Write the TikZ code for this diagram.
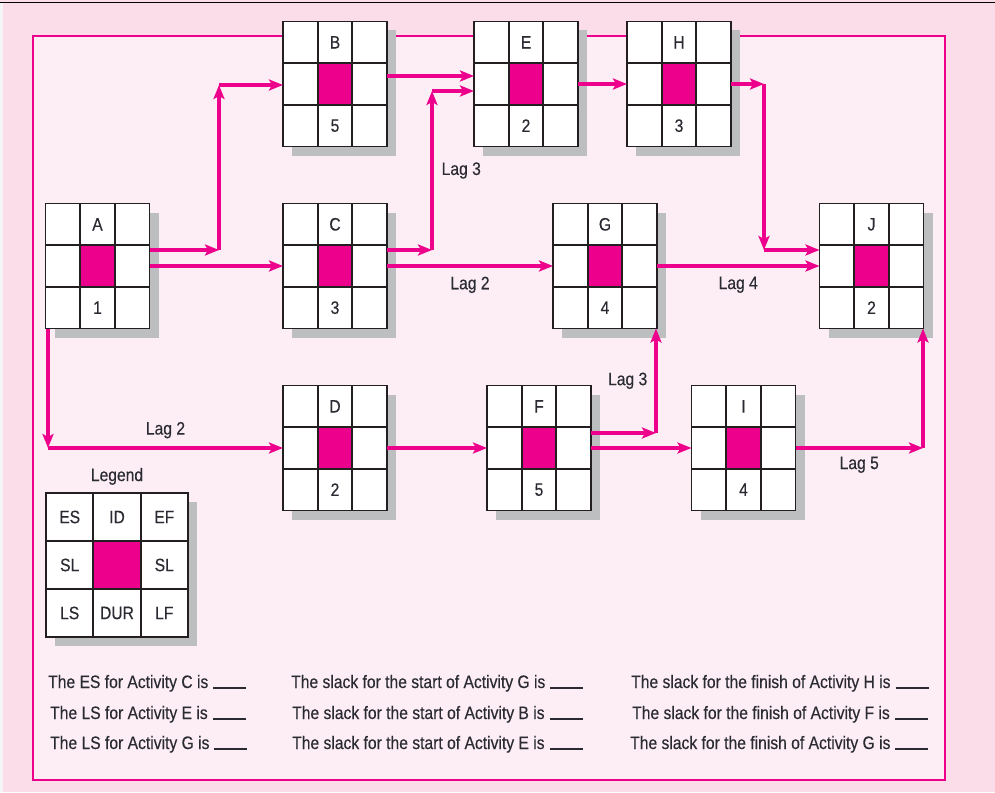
\documentclass[tikz,border=0pt]{standalone}
\usepackage{fontspec}
\setmainfont{Liberation Sans}[FakeStretch=0.87, FakeBold=0.3]
\usetikzlibrary{arrows.meta, positioning, calc}

\definecolor{hotpink}{RGB}{236,0,140}
\definecolor{pageback}{RGB}{250,221,232}
\definecolor{frameback}{RGB}{253,237,244}
\definecolor{shadowgray}{RGB}{189,190,192}
\definecolor{gridblack}{RGB}{35,31,32}
\definecolor{inkgray}{RGB}{42,42,50}

\newcommand{\boxfont}{\fontsize{18}{21}\selectfont}
\newcommand{\blank}{\hspace{5pt}\rule[-0.5pt]{33pt}{1.8pt}}

% inner lines and magenta centre of a 3x3 box
\newcommand{\cellgrid}[1]{%
  \fill[hotpink] ($(#1.north west)!1/3!(#1.south east)$) rectangle ($(#1.north west)!2/3!(#1.south east)$);
  \draw[gridline]
    ($(#1.north west)!1/3!(#1.north east)$) -- ($(#1.south west)!1/3!(#1.south east)$)
    ($(#1.north west)!2/3!(#1.north east)$) -- ($(#1.south west)!2/3!(#1.south east)$)
    ($(#1.north west)!1/3!(#1.south west)$) -- ($(#1.north east)!1/3!(#1.south east)$)
    ($(#1.north west)!2/3!(#1.south west)$) -- ($(#1.north east)!2/3!(#1.south east)$);
}

% activity box: name, position, duration
\newcommand{\actnode}[3]{%
  \node[actbox] (#1) at (#2) {};
  \cellgrid{#1}
  \node[cellnum] (#1-id) at ($(#1.north)!1/6!(#1.south)$) {#1};
  \node[cellnum] (#1-dur) at ($(#1.north)!5/6!(#1.south)$) {#3};
}

\begin{document}
\begin{tikzpicture}[
  x=1pt, y=-1pt,
  >=Stealth,
  % --- boxes ---
  actbox/.style={
    draw=gridblack, line width=1.9pt, fill=white,
    minimum width=104pt, minimum height=125pt, inner sep=0pt, outer sep=0pt,
    preaction={fill=shadowgray, draw=none, transform canvas={shift={(9pt,-9pt)}}}
  },
  legbox/.style={actbox, minimum width=142pt, minimum height=144pt},
  gridline/.style={draw=gridblack, line width=1.9pt},
  frameline/.style={draw=hotpink, line width=1.8pt, fill=frameback},
  % --- labels ---
  cellnum/.style={font=\boxfont, text=inkgray, inner sep=0pt},
  lag/.style={font=\boxfont, text=inkgray, inner sep=1pt},
  qtext/.style={font=\boxfont, text=inkgray, anchor=base west, inner sep=0pt},
  % --- arrows ---
  arr/.style={-{Stealth[length=14pt, width=11pt, inset=3pt]}, line width=3.4pt, draw=hotpink},
]

\useasboundingbox (0,0) rectangle (995,792);

% ===================== PAGE =====================

\fill[pageback] (0,0) rectangle (995,792);
\fill[gray!8] (0,3) rectangle (3,792);
\draw[black, line width=1.5pt] (0,2.5) -- (995,2.5);
\draw[frameline] (33,36) rectangle (945,780);

% ===================== ACTIVITIES =====================

\actnode{A}{97.5,266}{1}
\actnode{B}{335,84}{5}
\actnode{C}{335,266}{3}
\actnode{D}{335,448}{2}
\actnode{E}{526,84}{2}
\actnode{F}{539,448}{5}
\actnode{G}{605,266}{4}
\actnode{H}{679,84}{3}
\actnode{I}{743.5,448}{4}
\actnode{J}{871.5,266}{2}

% ===================== CONNECTIONS =====================

% A -> B, A -> C, A -> D
\coordinate (ab1) at (219,250);
\coordinate (ab2) at (219,85);
\draw[arr] (A.east |- ab1) -- (ab1);
\draw[arr] (ab1) -- (ab2);
\draw[arr] (ab2) -- (B.west |- ab2);
\draw[arr] (A) -- (C);
\coordinate (ad1) at (48,448);
\draw[arr] (A.south west -| ad1) -- (ad1);
\draw[arr] (ad1) -- node[lag, above=7pt] {Lag 2} (D.west |- ad1);

% B -> E, C -> E, C -> G
\draw[arr] ([yshift=8pt]B.east) -- ([yshift=8pt]E.west);
\coordinate (ce1) at (432,250);
\coordinate (ce2) at (432,91);
\draw[arr] (C.east |- ce1) -- (ce1);
\draw[arr] (ce1) -- node[lag, right=7pt] {Lag 3} (ce2);
\draw[arr] (ce2) -- (E.west |- ce2);
\draw[arr] (C) -- node[lag, below=8pt] {Lag 2} (G);

% E -> H -> J, G -> J
\draw[arr] (E) -- (H);
\coordinate (hj1) at (764,84);
\coordinate (hj2) at (764,250);
\draw[arr] (H.east |- hj1) -- (hj1);
\draw[arr] (hj1) -- (hj2);
\draw[arr] (hj2) -- (J.west |- hj2);
\draw[arr] (G) -- node[lag, below=8pt] {Lag 4} (J);

% D -> F, F -> G, F -> I, I -> J
\draw[arr] (D) -- (F);
\coordinate (fg1) at (656,433);
\draw[arr] (F.east |- fg1) -- (fg1);
\draw[arr] (fg1) -- node[lag, left=6pt] {Lag 3} (fg1 |- G.south);
\draw[arr] (F) -- (I);
\coordinate (ij1) at (923,448);
\draw[arr] (I.east) -- node[lag, below=6pt] {Lag 5} (ij1);
\draw[arr] (ij1) -- (ij1 |- J.south);

% ===================== LEGEND =====================

\node[legbox] (legend) at (117,565) {};
\cellgrid{legend}
\node[cellnum, above=8pt of legend] (legend-title) {Legend};
\foreach \txt/\dx/\dy [count=\k] in {ES/-1/-1, ID/0/-1, EF/1/-1, SL/-1/0, SL/1/0, LS/-1/1, DUR/0/1, LF/1/1}
  \node[cellnum] (leg\k) at ([shift={(47.3*\dx,48*\dy)}]legend.center) {\txt};

% ===================== QUESTIONS =====================

\node[qtext] (q1) at (48,688) {The ES for Activity C is\blank};
\node[qtext] (q2) at (50,719) {The LS for Activity E is\blank};
\node[qtext] (q3) at (50,749) {The LS for Activity G is\blank};
\node[qtext] (q4) at (291,688) {The slack for the start of Activity G is\blank};
\node[qtext] (q5) at (292,719) {The slack for the start of Activity B is\blank};
\node[qtext] (q6) at (292,749) {The slack for the start of Activity E is\blank};
\node[qtext] (q7) at (631,688) {The slack for the finish of Activity H is\blank};
\node[qtext] (q8) at (632,719) {The slack for the finish of Activity F is\blank};
\node[qtext] (q9) at (630,749) {The slack for the finish of Activity G is\blank};

\end{tikzpicture}
\end{document}
